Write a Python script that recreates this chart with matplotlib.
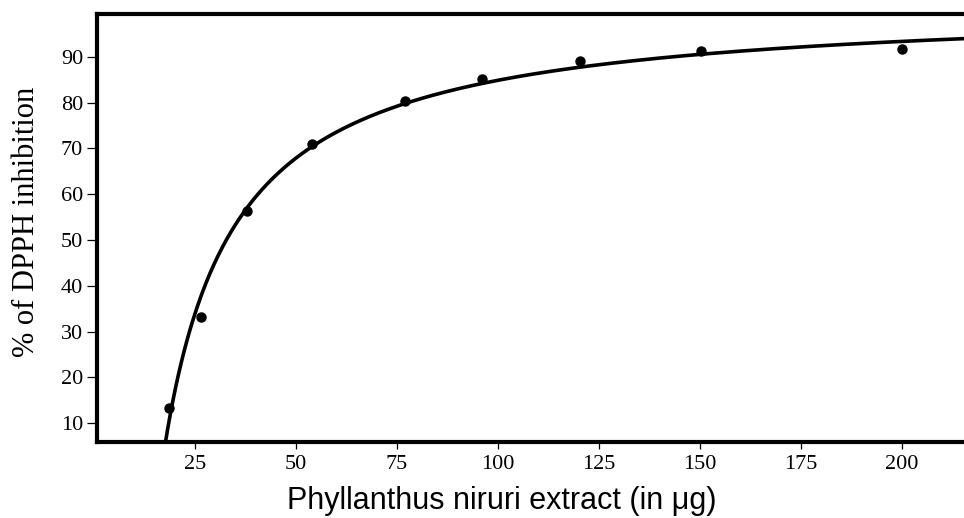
import numpy as np
import matplotlib
matplotlib.use("Agg")
import matplotlib.pyplot as plt

# Measured points (extract amount in ug, % DPPH inhibition)
extract_ug = [18.6, 26.4, 37.8, 53.9, 77.0, 96.0, 120.3, 150.2, 200.0]
inhibition = [13.3, 33.2, 56.3, 70.9, 80.3, 85.1, 89.0, 91.2, 91.6]
x_ticks = [25, 50, 75, 100, 125, 150, 175, 200]
y_ticks = [10, 20, 30, 40, 50, 60, 70, 80, 90]

# Hyperbolic fit y = a - b/x, least squares on 1/x
x = np.array(extract_ug)
y = np.array(inhibition)
slope, intercept = np.polyfit(1.0 / x, y, 1)
x_fit = np.linspace(12, 220, 600)
y_fit = intercept + slope / x_fit

fig = plt.figure(figsize=(9.64, 5.18), dpi=100)
ax = fig.add_axes([0.1006, 0.1467, 0.8994, 0.8269])

ax.plot(x_fit, y_fit, color="black", lw=2.6, solid_capstyle="butt", zorder=3)
ax.plot(x, y, "o", color="black", markersize=6.5, zorder=4)

ax.set_xlim(0.74, 215.35)
ax.set_ylim(5.9, 99.4)
ax.set_xticks(x_ticks)
ax.set_yticks(y_ticks)

for side in ["left", "bottom", "top"]:
    ax.spines[side].set_linewidth(3.0)
ax.spines["right"].set_visible(False)

ax.tick_params(axis="y", direction="out", length=7, width=0.9, pad=3)
ax.tick_params(axis="x", direction="out", length=5, width=0.9, pad=4)
for lbl in ax.get_xticklabels() + ax.get_yticklabels():
    lbl.set_fontfamily("Liberation Serif")
    lbl.set_fontsize(16)

fig.text(0.028, 0.571, "% of DPPH inhibition", rotation=90, ha="center", va="center",
         fontfamily="Liberation Serif", fontsize=22)
fig.text(0.52, 0.004, "Phyllanthus niruri extract (in \u03bcg)", ha="center", va="bottom",
         fontfamily="Liberation Sans", fontsize=22)

fig.savefig("out.png", dpi=100)
